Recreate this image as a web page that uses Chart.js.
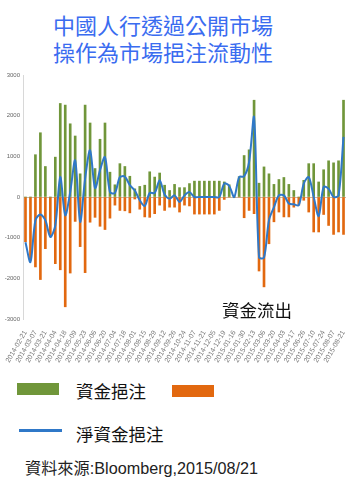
<!DOCTYPE html>
<html>
<head>
<meta charset="utf-8">
<script src="https://cdn.jsdelivr.net/npm/chart.js@4.4.1/dist/chart.umd.min.js"></script>
<style>
  html, body { margin: 0; padding: 0; background: #ffffff; }
  #wrap { position: relative; width: 357px; height: 477px; overflow: hidden; background: #ffffff;
          font-family: "Liberation Sans", "Noto Sans CJK TC", sans-serif; }
  .t { position: absolute; white-space: nowrap; font-family: "Liberation Sans", "Noto Sans CJK TC", sans-serif; }
  .title { left: 53px; font-size: 22px; color: #3a6cf0; letter-spacing: 0px; }
  #cv { position: absolute; left: 0; top: 65px; }
  .box { position: absolute; }
</style>
</head>
<body>
<div id="wrap">
  <div class="t title" style="top:8px;">中國人行透過公開市場</div>
  <div class="t title" style="top:35px;">操作為市場挹注流動性</div>
  <canvas id="cv" width="357" height="300"></canvas>
  <div class="t" style="left:222px;top:297px;font-size:17.5px;color:#111;">資金流出</div>
  <div class="box" style="left:17px;top:383px;width:42px;height:12px;background:#70963a;"></div>
  <div class="t" style="left:76px;top:378px;font-size:17.5px;color:#111;">資金挹注</div>
  <div class="box" style="left:172px;top:385px;width:42px;height:12px;background:#e2680f;"></div>
  <div class="box" style="left:19px;top:429px;width:43px;height:3px;background:#2f78c8;"></div>
  <div class="t" style="left:76px;top:421px;font-size:17.5px;color:#111;">淨資金挹注</div>
  <div class="t" style="left:25px;top:455px;font-size:16.2px;color:#222;">資料來源:Bloomberg,2015/08/21</div>
</div>
<script>
const categories = [
  "2014-02-21","2014-02-28","2014-03-07","2014-03-14","2014-03-21","2014-03-28","2014-04-04","2014-04-11","2014-04-18","2014-04-25",
  "2014-05-09","2014-05-16","2014-05-23","2014-05-30","2014-06-06","2014-06-13","2014-06-20","2014-06-27",
  "2014-07-04","2014-07-11","2014-07-18","2014-07-25","2014-08-01","2014-08-08","2014-08-15","2014-08-22","2014-08-29",
  "2014-09-05","2014-09-12","2014-09-19","2014-09-26","2014-10-17","2014-10-24","2014-10-31",
  "2014-11-07","2014-11-14","2014-11-21","2014-11-28","2014-12-05","2014-12-12","2014-12-19",
  "2015-01-09","2015-01-16","2015-01-23","2015-01-30","2015-02-06","2015-02-13","2015-02-27","2015-03-06",
  "2015-03-13","2015-03-20","2015-03-27","2015-04-03","2015-04-10","2015-04-17",
  "2015-06-19","2015-06-26","2015-07-03","2015-07-10","2015-07-17","2015-07-24","2015-07-31","2015-08-07","2015-08-14","2015-08-21"
];
const injection = [
  0, 0, 1040, 1580, 750, 0, 980, 2300, 2260, 1800,
  1500, 570, 2260, 1820, 700, 1420, 1820, 610,
  300, 820, 750, 510, 200, 260, 290, 620, 490,
  590, 290, 160, 310, 230, 230, 330,
  390, 390, 390, 390, 390, 390, 370,
  300, 0, 500, 1020, 1160, 2380, 340, 740,
  570, 310, 430, 480, 310, 160,
  0, 410, 820, 820, 370, 670, 890, 840, 890, 2380
];
const withdrawal = [
  -1100, -1550, -1720, -2030, -1270, -980, -1640, -1790, -2700, -1870,
  -600, -1220, -1860, -620, -500, -720, -800, -520,
  -200, -330, -340, -390, -50, -300, -490, -500, -410,
  -200, -330, -250, -250, -370, -200, -220,
  -420, -420, -420, -420, -420, -330, -60,
  0, 0, 0, -510, -330, -410, -1820, -2210,
  -1150, -610, -370, -490, -490, -250,
  -200, -80, -370, -860, -860, -430, -700, -920, -860, -920
];
const netInjection = [
  -1110, -1600, -570, -430, -570, -980, -700, 490, -450, 120,
  900, -610, 450, 1150, 220, 660, 980, 120,
  100, 490, 500, 290, 160, -80, -220, 100, 100,
  410, 60, -40, 40, -120, 40, 120,
  0, 0, 0, 0, 0, 0, 330,
  270, 0, 490, 510, 860, 1960, -1480, -1490,
  -570, -250, 40, 40, -160, -180,
  -200, 330, 490, 0, -470, 250, 200, 0, 40, 1480
];
const yMin = -3000, yMax = 3000, yStep = 1000;

new Chart(document.getElementById('cv'), {
  type: 'bar',
  data: {
    labels: categories,
    datasets: [
      { label: '淨資金挹注', type: 'line', data: netInjection, borderColor: '#2f78c8', borderWidth: 2,
        pointRadius: 0, tension: 0.3, fill: false, order: 0 },
      { label: '資金挹注', data: injection, backgroundColor: '#70963a', barThickness: 2, grouped: false, order: 1 },
      { label: '資金流出', data: withdrawal, backgroundColor: '#e2680f', barThickness: 2, grouped: false, order: 2 }
    ]
  },
  options: {
    responsive: false,
    animation: false,
    devicePixelRatio: 1,
    layout: { padding: { top: 10, right: 11, left: 0, bottom: 0 } },
    plugins: { legend: { display: false }, title: { display: false }, tooltip: { enabled: false } },
    scales: {
      x: {
        grid: { display: false },
        border: { display: false },
        ticks: {
          autoSkip: false, minRotation: 60, maxRotation: 60, padding: 2,
          font: { size: 7, family: 'Liberation Sans' }, color: '#777',
          callback: (v, i) => (i % 2 === 0 ? categories[i] : '')
        },
        afterFit: s => { s.height = 46; }
      },
      y: {
        min: yMin, max: yMax,
        ticks: { stepSize: yStep, font: { size: 6, family: 'Liberation Sans' }, color: '#666', padding: 3,
                 callback: v => String(v) },
        grid: { drawTicks: false, color: c => (c.tick && c.tick.value === 0 ? '#c8b9a6' : 'rgba(0,0,0,0)') },
        border: { display: true, color: '#d8d8d8' },
        afterFit: s => { s.width = 23; }
      }
    }
  }
});
</script>
</body>
</html>
